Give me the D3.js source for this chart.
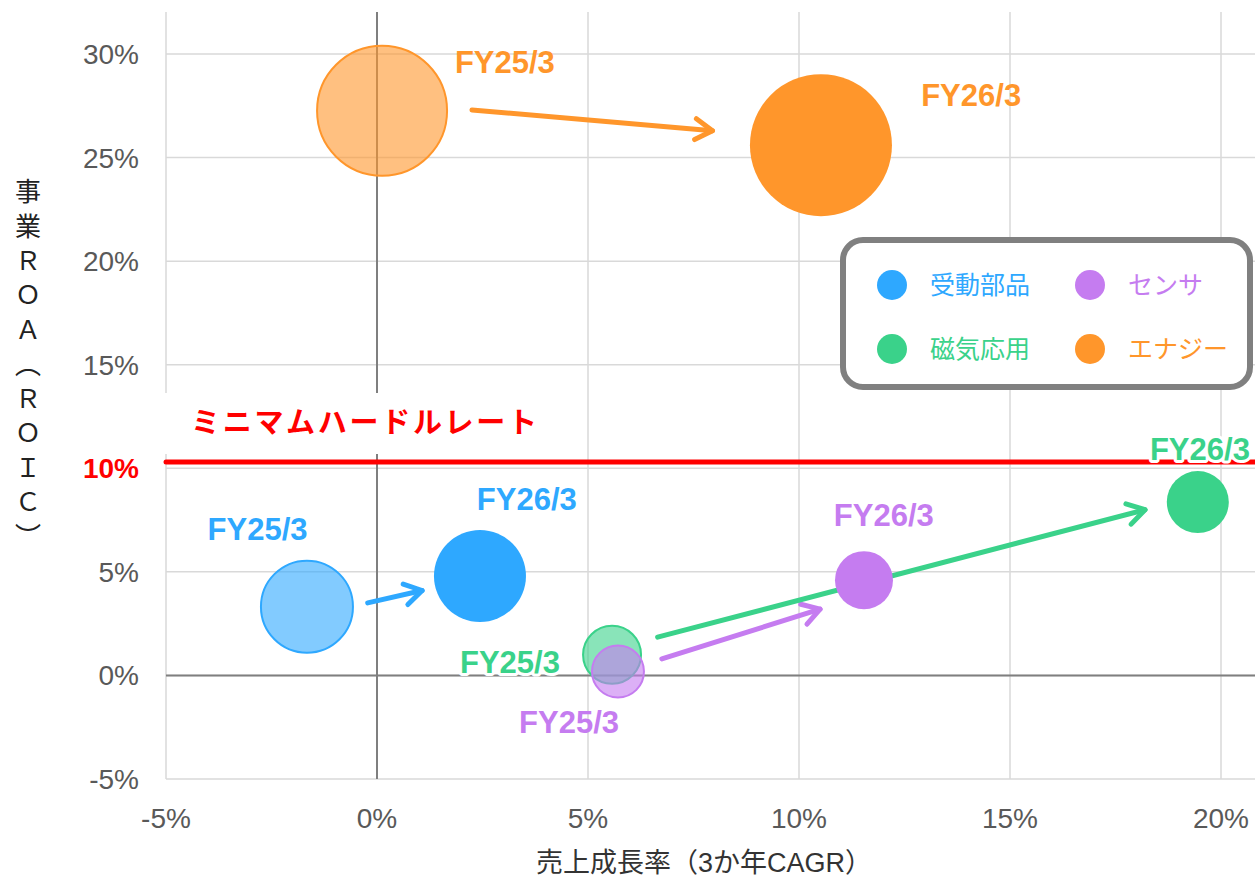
<!DOCTYPE html>
<html><head><meta charset="utf-8">
<script src="https://cdn.jsdelivr.net/npm/d3@7"></script>
<style>body{margin:0;background:#fff}svg{display:block}</style>
</head><body>
<svg id="c" width="1255" height="877"></svg>
<script>
const segments = ["受動部品","センサ","磁気応用","エナジー"];
const colors = ["#2ea8ff","#c57cf0","#3ad28a","#ff962b"];
const years = ["FY25/3","FY26/3"];
// growth (x, %), ROA (y, %), bubble size (radius units)
const growth25 = [-1.66, 5.71, 5.57, 0.12];
const roa25    = [3.32, 0.19, 1.0, 27.26];
const size25   = [46, 26, 29, 65];
const growth26 = [2.44, 11.54, 19.45, 10.52];
const roa26    = [4.8, 4.6, 8.37, 25.6];
const size26   = [46, 29, 31, 71];
const xTicks = [-5,0,5,10,15,20];
const yTicks = [-5,0,5,10,15,20,25,30];
const hurdle = 10.3;
const hurdleLabel = "ミニマムハードルレート";
const xTitle = "売上成長率（3か年CAGR）";
const yTitle = "事業ＲＯＡ（ＲＯＩＣ）";
// arrows: [x0,y0,x1,y1] in data units
const arrows = [
  [-0.22,3.5, 1.07,4.1],
  [6.75,0.8, 10.5,3.2],
  [6.65,1.85, 18.2,8.0],
  [2.25,27.3, 7.95,26.3]
];
// label baseline positions (data units) for [FY25, FY26]
const lab25 = [[-2.83,6.54],[4.55,-2.78],[3.15,0.12],[3.03,29.08]];
const lab26 = [[3.55,7.99],[12.01,7.21],[19.5,10.4],[14.08,27.49]];

const svg = d3.select("#c");
const x = d3.scaleLinear().domain([-5,20]).range([166,1221]);
const y = d3.scaleLinear().domain([-5,30]).range([779,54]);
const L=166,R=1255,T=12,B=779;
const font = "'Liberation Sans', Arial, 'Noto Sans CJK JP', sans-serif";

// grid
const g = svg.append("g");
g.selectAll(".vx").data(xTicks).join("line")
 .attr("x1",d=>x(d)).attr("x2",d=>x(d)).attr("y1",T).attr("y2",B)
 .attr("stroke","#d9d9d9").attr("stroke-width",1.5);
g.selectAll(".hy").data(yTicks).join("line")
 .attr("x1",L).attr("x2",R).attr("y1",d=>y(d)).attr("y2",d=>y(d))
 .attr("stroke","#d9d9d9").attr("stroke-width",1.5);
// zero lines
g.append("line").attr("x1",x(0)).attr("x2",x(0)).attr("y1",T).attr("y2",B).attr("stroke","#7f7f7f").attr("stroke-width",2);
g.append("line").attr("x1",L).attr("x2",R).attr("y1",y(0)).attr("y2",y(0)).attr("stroke","#7f7f7f").attr("stroke-width",2);

// axis tick labels
svg.selectAll(".xt").data(xTicks).join("text")
 .attr("x",d=>x(d)).attr("y",828).attr("text-anchor","middle")
 .attr("font-family",font).attr("font-size",28).attr("fill","#595959")
 .text(d=>d+"%");
svg.selectAll(".yt").data(yTicks).join("text")
 .attr("x",139).attr("y",d=>y(d)+10).attr("text-anchor","end")
 .attr("font-family",font).attr("font-size",28)
 .attr("fill",d=>d===10?"#ff0000":"#595959")
 .attr("font-weight",d=>d===10?"bold":"normal")
 .text(d=>d+"%");

// titles
svg.append("text").attr("x",704).attr("y",872).attr("text-anchor","middle")
 .attr("font-family",font).attr("font-size",27).attr("fill","#333").text(xTitle);
svg.append("text").attr("x",28).attr("y",368).attr("text-anchor","middle")
 .attr("font-family","'Noto Sans CJK JP', sans-serif").attr("font-size",26).attr("fill","#222")
 .style("writing-mode","vertical-rl").style("text-orientation","upright")
 .attr("letter-spacing",8.5).text(yTitle);

// hurdle label bg + text
svg.append("rect").attr("x",L-2).attr("y",393).attr("width",400).attr("height",61).attr("fill","#fff");
svg.append("text").attr("x",191).attr("y",433).attr("font-family",font).attr("font-size",29)
 .attr("font-weight","bold").attr("fill","#ff0000").attr("letter-spacing",2.7).text(hurdleLabel);
svg.append("line").attr("x1",L).attr("x2",R).attr("y1",y(hurdle)).attr("y2",y(hurdle))
 .attr("stroke","#ff0000").attr("stroke-width",5).attr("stroke-linecap","round");

// arrows
function drawArrow(a,col){
  const x0=x(a[0]),y0=y(a[1]),x1=x(a[2]),y1=y(a[3]);
  const ang=Math.atan2(y1-y0,x1-x0), hl=20, ha=0.55;
  svg.append("line").attr("x1",x0).attr("y1",y0).attr("x2",x1).attr("y2",y1)
   .attr("stroke",col).attr("stroke-width",5).attr("stroke-linecap","round");
  const p = d3.path();
  p.moveTo(x1-hl*Math.cos(ang-ha), y1-hl*Math.sin(ang-ha));
  p.lineTo(x1,y1);
  p.lineTo(x1-hl*Math.cos(ang+ha), y1-hl*Math.sin(ang+ha));
  svg.append("path").attr("d",p.toString()).attr("fill","none").attr("stroke",col)
   .attr("stroke-width",5).attr("stroke-linecap","round").attr("stroke-linejoin","round");
}
arrows.forEach((a,i)=>drawArrow(a,colors[i]));

// bubbles
const order=[0,2,1,3];
order.forEach(i=>{
  svg.append("circle").attr("cx",x(growth25[i])).attr("cy",y(roa25[i])).attr("r",size25[i])
   .attr("fill",colors[i]).attr("fill-opacity",0.6).attr("stroke",colors[i]).attr("stroke-width",2);
});
order.forEach(i=>{
  svg.append("circle").attr("cx",x(growth26[i])).attr("cy",y(roa26[i])).attr("r",size26[i])
   .attr("fill",colors[i]);
});

// labels
function label(pos,txt,col,halo){
  const t = svg.append("text").attr("x",x(pos[0])).attr("y",y(pos[1])).attr("text-anchor","middle")
   .attr("font-family",font).attr("font-size",31).attr("font-weight","bold").attr("fill",col).text(txt);
  if(halo) t.attr("stroke","#fff").attr("stroke-width",6).attr("paint-order","stroke").attr("stroke-linejoin","round");
}
segments.forEach((s,i)=>{
  label(lab25[i],years[0],colors[i],i===2);
  label(lab26[i],years[1],colors[i],i===2);
});

// legend
svg.append("rect").attr("x",843).attr("y",240).attr("width",407).attr("height",147).attr("rx",20)
 .attr("fill","#fff").attr("stroke","#808080").attr("stroke-width",6);
const legPos=[[892,285],[1090,285],[892,349],[1090,349]];
segments.forEach((s,i)=>{
  const [cx,cy]=legPos[i];
  svg.append("circle").attr("cx",cx).attr("cy",cy).attr("r",15).attr("fill",colors[i]);
  svg.append("text").attr("x",cx+38).attr("y",cy+9).attr("font-family",font).attr("font-size",25)
   .attr("fill",colors[i]).text(s);
});
</script>
</body></html>
